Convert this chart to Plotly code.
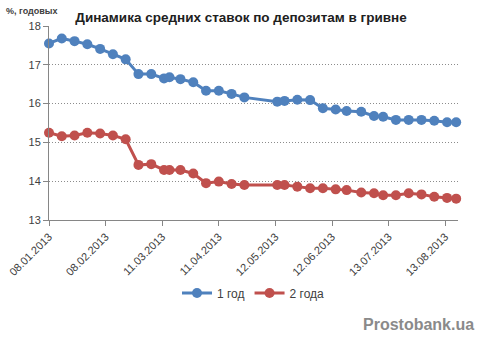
import plotly.graph_objects as go

# Weekly observation dates
dates = [
    "2013-01-08", "2013-01-15", "2013-01-22", "2013-01-29", "2013-02-05",
    "2013-02-12", "2013-02-19", "2013-02-26", "2013-03-05", "2013-03-12",
    "2013-03-15", "2013-03-21", "2013-03-28", "2013-04-04", "2013-04-11",
    "2013-04-18", "2013-04-25", "2013-05-13", "2013-05-17", "2013-05-24",
    "2013-05-31", "2013-06-07", "2013-06-14", "2013-06-20", "2013-06-28",
    "2013-07-05", "2013-07-10", "2013-07-17", "2013-07-24", "2013-07-31",
    "2013-08-07", "2013-08-14", "2013-08-19",
]

# Average deposit rates, % per annum
rate_1y = [
    17.55, 17.68, 17.61, 17.53, 17.41, 17.27, 17.14, 16.76, 16.76, 16.65,
    16.68, 16.63, 16.55, 16.33, 16.33, 16.25, 16.16, 16.05, 16.07, 16.10,
    16.09, 15.88, 15.85, 15.81, 15.79, 15.68, 15.66, 15.58, 15.58, 15.58,
    15.56, 15.52, 15.52,
]
rate_2y = [
    15.25, 15.16, 15.18, 15.25, 15.23, 15.18, 15.08, 14.42, 14.44, 14.29,
    14.29, 14.29, 14.20, 13.95, 13.99, 13.93, 13.90, 13.90, 13.90, 13.86,
    13.82, 13.82, 13.79, 13.77, 13.71, 13.69, 13.64, 13.64, 13.69, 13.66,
    13.60, 13.57, 13.55,
]

series_names = ["1 год", "2 года"]
y_ticks = [13, 14, 15, 16, 17, 18]

BLUE = "#4F81BD"
RED = "#C0504D"
FONT = "Liberation Sans"

fig = go.Figure()
for name, vals, col in [(series_names[0], rate_1y, BLUE), (series_names[1], rate_2y, RED)]:
    fig.add_trace(go.Scatter(
        x=dates, y=vals, name=name, mode="lines+markers",
        line=dict(color=col, width=3),
        marker=dict(color=col, size=10),
        cliponaxis=False,
    ))

DAY_MS = 86400000
fig.update_xaxes(
    type="date",
    range=["2013-01-08", "2013-08-20"],
    tick0="2013-01-08",
    dtick=31 * DAY_MS,
    tickformat="%d.%m.%Y",
    tickangle=-45,
    ticks="outside", ticklen=5, tickcolor="#868686",
    showline=True, linecolor="#868686", linewidth=1,
    showgrid=False, zeroline=False, automargin=False,
    tickfont=dict(family=FONT, size=11, color="#404040"),
)
fig.update_yaxes(
    range=[13, 18],
    tickvals=y_ticks,
    ticks="outside", ticklen=5, tickcolor="#868686",
    showline=True, linecolor="#868686", linewidth=1,
    showgrid=True, gridcolor="#8c8c8c", griddash="1px,2px", gridwidth=1,
    zeroline=False, automargin=False,
    tickfont=dict(family=FONT, size=11, color="#404040"),
)

fig.update_layout(
    width=482, height=342,
    margin=dict(l=49, r=24, t=26, b=122),
    paper_bgcolor="white", plot_bgcolor="white",
    showlegend=True,
    legend=dict(
        orientation="h", x=0.5, xanchor="center", y=-0.376, yanchor="middle",
        font=dict(family=FONT, size=12, color="#404040"),
        itemwidth=30,
    ),
    title=dict(
        text="<b>Динамика средних ставок по депозитам в гривне</b>",
        x=0.5, xanchor="center", y=1 - 17 / 342, yanchor="middle",
        font=dict(family=FONT, size=13.5, color="#202020"),
    ),
    annotations=[
        dict(text="<b>%, годовых</b>", xref="paper", yref="paper",
             x=-0.11, y=1.077, xanchor="left", yanchor="middle", showarrow=False,
             font=dict(family=FONT, size=9, color="#404040")),
        dict(text="<b>Prostobank.ua</b>", xref="paper", yref="paper",
             x=1.045, y=-0.54, xanchor="right", yanchor="middle", showarrow=False,
             font=dict(family=FONT, size=16, color="#8a8a8a")),
    ],
)

fig.write_html("out.html")
